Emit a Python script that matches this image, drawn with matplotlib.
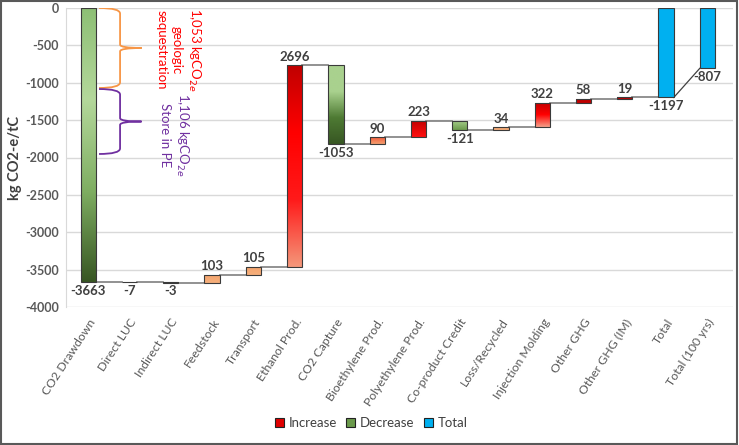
import numpy as np
import matplotlib
matplotlib.use("Agg")
import matplotlib.pyplot as plt
from matplotlib.colors import LinearSegmentedColormap
from matplotlib.patches import Patch, Rectangle
from matplotlib.path import Path
from matplotlib.patches import PathPatch

# ---------------- data ----------------
categories = ["CO2 Drawdown", "Direct LUC", "Indirect LUC", "Feedstock", "Transport",
              "Ethanol Prod.", "CO2 Capture", "Bioethylene Prod.", "Polyethylene Prod.",
              "Co-product Credit", "Loss/Recycled", "Injection Molding", "Other GHG",
              "Other GHG (IM)", "Total", "Total (100 yrs)"]
changes = [-3663, -7, -3, 103, 105, 2696, -1053, 90, 223, -121, 34, 322, 58, 19]
totals = [-1197, -807]
y_ticks = [0, -500, -1000, -1500, -2000, -2500, -3000, -3500, -4000]

# ---------------- style ----------------
grad_styles = [
    ["#8DBF75", "#B4D89B", "#7FAE62", "#375623"],        # drawdown
    ["#4E7A33", "#375623"],
    ["#4E7A33", "#375623"],
    ["#F4A46E", "#F6B07C"],
    ["#F4A46E", "#F6B07C"],
    ["#C00000", "#FF0000", "#FF1A1A", "#F4977A"],        # ethanol
    ["#A9D18E", "#A9D18E", "#4E7A33", "#375623"],        # capture
    ["#F25C3C", "#F4A070"],
    ["#C00000", "#FF1010"],
    ["#A9D18E", "#6B9A4C"],
    ["#F4A46E", "#F6B07C"],
    ["#C00000", "#FF0000", "#F4A08A"],
    ["#C00000", "#C00000"],
    ["#C00000", "#C00000"],
]
total_color = "#00B0F0"
text_col = "#404040"
tick_col = "#595959"
font = "Lato"

fig = plt.figure(figsize=(7.39, 4.45), dpi=100)
ax = fig.add_axes([66/739, 1-307/445, (733-66)/739, (307-8)/445])

n = len(categories)
x = np.arange(n)
w = 0.37

# running totals
starts, ends = [], []
cur = 0
for c in changes:
    starts.append(cur)
    cur += c
    ends.append(cur)

# gridlines
for t in y_ticks:
    ax.axhline(t, color="#D9D9D9", lw=1.0, zorder=0)

def grad_bar(xc, y0, y1, colors):
    lo, hi = min(y0, y1), max(y0, y1)
    bars = ax.bar(xc, hi - lo, bottom=lo, width=w, facecolor="none",
                  edgecolor="#3A3A3A", lw=0.8, zorder=3)
    cmap = LinearSegmentedColormap.from_list("g", colors[::-1])
    grad = np.linspace(0, 1, 256).reshape(-1, 1)
    im = ax.imshow(grad, cmap=cmap, extent=[xc - w/2, xc + w/2, lo, hi],
                   origin="lower", aspect="auto", zorder=2, interpolation="bilinear")
    im.set_clip_path(bars.patches[0])

for i, c in enumerate(changes):
    grad_bar(x[i], starts[i], ends[i], grad_styles[i])

# totals
tot_idx = [len(changes), len(changes) + 1]
for j, ti in enumerate(tot_idx):
    ax.bar(x[ti], totals[j], bottom=0, width=w, color=total_color,
           edgecolor="#3A3A3A", lw=0.8, zorder=3)

# connectors
for i in range(len(changes)):
    ax.plot([x[i] + w/2, x[i+1] - w/2], [ends[i], ends[i]],
            color="#7F7F7F", lw=1.2, zorder=1)
ax.plot([x[tot_idx[0]] + w/2, x[tot_idx[1]] - w/2], [totals[0], totals[1]],
        color="#404040", lw=0.9, zorder=1)

# value labels
lab_kw = dict(ha="center", fontsize=9.5, color=text_col, family=font, fontweight="bold")
for i, c in enumerate(changes):
    if c >= 0:
        ax.annotate(f"{c}", (x[i], ends[i]), xytext=(0, 2), textcoords="offset points",
                    va="bottom", **lab_kw)
    else:
        ax.annotate(f"{c}", (x[i], ends[i]), xytext=(0, -2), textcoords="offset points",
                    va="top", **lab_kw)
for j, ti in enumerate(tot_idx):
    ax.annotate(f"{totals[j]}", (x[ti], totals[j]), xytext=(0, -2), textcoords="offset points",
                va="top", **lab_kw)

# braces
def brace(x0, xm, xt, yt, yb, color):
    ym = (yt + yb) / 2
    ry = 75
    rt = 45
    verts = [(x0, yt), (xm, yt), (xm, yt - ry),
             (xm, ym + rt), (xm, ym), (xt, ym),
             (xm, ym), (xm, ym - rt),
             (xm, yb + ry), (xm, yb), (x0, yb)]
    codes = [Path.MOVETO, Path.CURVE3, Path.CURVE3,
             Path.LINETO, Path.CURVE3, Path.CURVE3,
             Path.CURVE3, Path.CURVE3,
             Path.LINETO, Path.CURVE3, Path.CURVE3]
    ax.add_patch(PathPatch(Path(verts, codes), facecolor="none", edgecolor=color,
                           lw=1.3, zorder=4))

brace(0.26, 0.77, 1.29, 0, -1070, "#F79646")
brace(0.26, 0.77, 1.29, -1084, -1953, "#7030A0")

ax.text(2.19, -560, "1,053 kgCO$_{2e}$\ngeologic\nsequestration", rotation=270,
        ha="center", va="center", color="#FF0000", fontsize=9.5, family=font,
        multialignment="center", linespacing=1.3, zorder=5)
ax.text(2.09, -1700, "1,106 kgCO$_{2e}$\nStore in PE", rotation=270,
        ha="center", va="center", color="#7030A0", fontsize=9.5, family=font,
        multialignment="center", linespacing=1.3, zorder=5)

# axes styling
ax.set_xlim(-0.54, n - 1 + 0.62)
ax.set_ylim(-4000, 0)
ax.set_yticks(y_ticks)
ax.set_yticklabels([str(t) for t in y_ticks], fontsize=9, color=tick_col,
                   family=font, fontweight="bold")
ax.set_xticks(x)
ax.set_xticklabels(categories, rotation=57, ha="right", rotation_mode="anchor",
                   fontsize=8.8, color=tick_col, family=font)
ax.tick_params(axis="both", length=0, pad=5)
ax.tick_params(axis="x", pad=7)
for s in ["top", "right", "bottom"]:
    ax.spines[s].set_visible(False)
ax.spines["left"].set_color("#D9D9D9")
ax.set_ylabel("kg CO2-e/tC", fontsize=10.5, color=text_col, family=font, fontweight="bold")
ax.yaxis.set_label_coords(-44/667, 0.5)

handles = [Patch(facecolor="#E00000", edgecolor="#222222", lw=0.8),
           Patch(facecolor="#6B9A4C", edgecolor="#222222", lw=0.8),
           Patch(facecolor=total_color, edgecolor="#222222", lw=0.8)]
leg = fig.legend(handles, ["Increase", "Decrease", "Total"], loc="center",
                 bbox_to_anchor=(371/739, 1-423/445), ncol=3, frameon=False,
                 handlelength=0.7, handleheight=0.7, handletextpad=0.35, columnspacing=0.7,
                 prop={"family": font, "size": 9.5})
for t in leg.get_texts():
    t.set_color(text_col)

fig.add_artist(Rectangle((0.002, 0.003), 0.995, 0.994, transform=fig.transFigure,
                         fill=False, edgecolor="#595959", lw=1.5))

fig.savefig("out.png", dpi=100)
